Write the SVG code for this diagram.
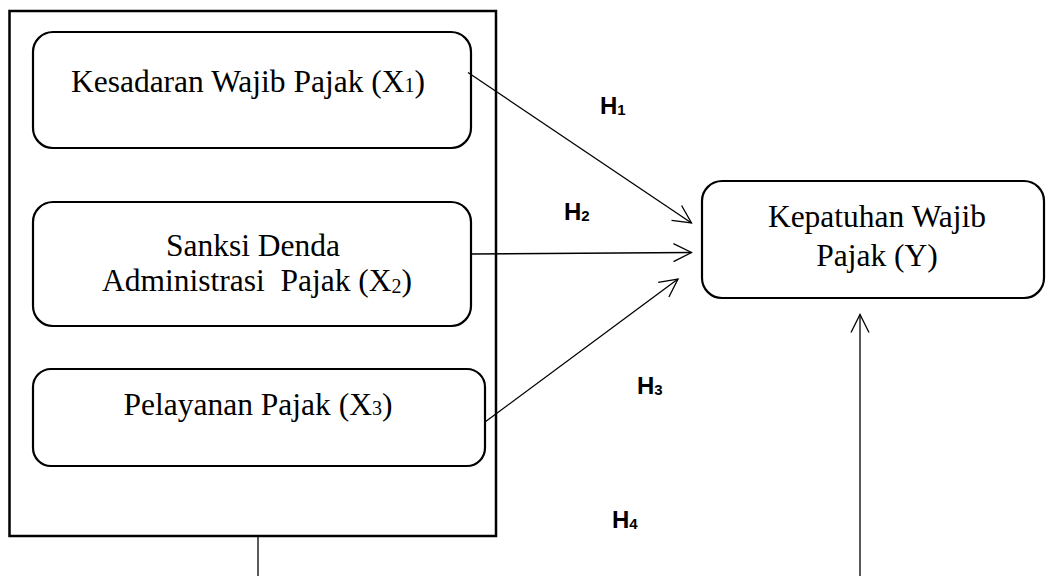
<svg xmlns="http://www.w3.org/2000/svg" width="1046" height="576" viewBox="0 0 1046 576">
<style>
.box{fill:#fff;stroke:#000;stroke-width:2.2}
.outer{fill:#fff;stroke:#000;stroke-width:2.5}
.t{font-family:"Liberation Serif","Times New Roman",serif;font-size:31.5px;fill:#000;text-anchor:middle;white-space:pre}
.h{font-family:"Liberation Sans",Arial,sans-serif;font-weight:bold;font-size:24px;fill:#000}
.c{fill:none;stroke:#000;stroke-width:1.3}
</style>
<defs>
<marker id="arr" markerUnits="userSpaceOnUse" markerWidth="24" markerHeight="24" refX="20" refY="12" orient="auto" overflow="visible">
<path d="M2,3 L20,12 L2,21" fill="none" stroke="#000" stroke-width="1.3"/>
</marker>
</defs>
<g id="group-x">
<rect class="outer" x="9.5" y="11" width="486.5" height="525"/>
</g>
<g id="node-x1">
<rect class="box" x="33" y="32" width="438" height="116" rx="20" ry="20"/>
<text class="t" x="248" y="92">Kesadaran Wajib Pajak (X<tspan font-size="20">1</tspan>)</text>
</g>
<g id="node-x2">
<rect class="box" x="33" y="202" width="438" height="124" rx="20" ry="20"/>
<text class="t" x="253" y="256">Sanksi Denda</text>
<text class="t" x="257" y="291" xml:space="preserve">Administrasi  Pajak (X<tspan font-size="20" dy="2">2</tspan><tspan dy="-2">)</tspan></text>
</g>
<g id="node-x3">
<rect class="box" x="33" y="369" width="452" height="97" rx="18" ry="18"/>
<text class="t" x="258" y="415">Pelayanan Pajak (X<tspan font-size="20">3</tspan>)</text>
</g>
<g id="node-y">
<rect class="box" x="702" y="181" width="342" height="117" rx="20" ry="20"/>
<text class="t" x="877" y="227">Kepatuhan Wajib</text>
<text class="t" x="877" y="266">Pajak (Y)</text>
</g>
<g id="connectors">
<line class="c" x1="468" y1="72.5" x2="691.5" y2="223" marker-end="url(#arr)"/>
<line class="c" x1="471" y1="254" x2="691.5" y2="252.5" marker-end="url(#arr)"/>
<line class="c" x1="485" y1="422" x2="678" y2="279" marker-end="url(#arr)"/>
<line class="c" x1="860" y1="576" x2="860" y2="314.5" marker-end="url(#arr)"/>
<line class="c" x1="258" y1="536" x2="258" y2="576"/>
</g>
<g id="labels">
<text class="h" x="600" y="114">H<tspan font-size="15" dy="1">1</tspan></text>
<text class="h" x="564" y="220">H<tspan font-size="15" dy="1">2</tspan></text>
<text class="h" x="637" y="394">H<tspan font-size="15" dy="1">3</tspan></text>
<text class="h" x="612" y="528">H<tspan font-size="15" dy="1">4</tspan></text>
</g>
</svg>
